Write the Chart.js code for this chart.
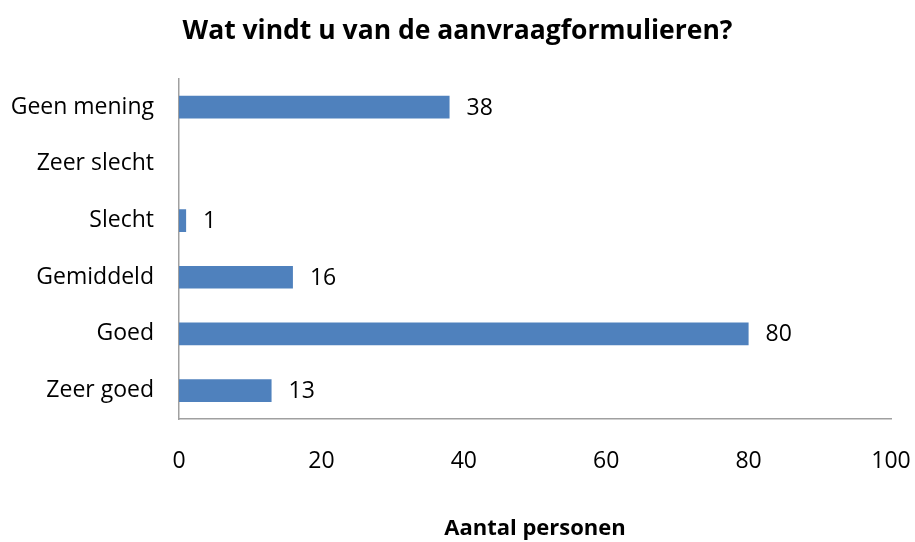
<!DOCTYPE html>
<html><head><meta charset="utf-8">
<script src="https://cdn.jsdelivr.net/npm/chart.js@4"></script>
<style>html,body{margin:0;padding:0;background:#fff}</style>
</head><body>
<canvas id="c" width="915" height="542"></canvas>
<script>
const categories = ['Geen mening', 'Zeer slecht', 'Slecht', 'Gemiddeld', 'Goed', 'Zeer goed'];
const values = [38, null, 1, 16, 80, 13];
const xTicks = [0, 20, 40, 60, 80, 100];
const chartTitle = 'Wat vindt u van de aanvraagformulieren?';
const xAxisTitle = 'Aantal personen';

const FONT = "'Open Sans', 'Liberation Sans', sans-serif";

const valueLabels = {
  id: 'valueLabels',
  afterDatasetsDraw(chart) {
    const ctx = chart.ctx;
    const meta = chart.getDatasetMeta(0);
    ctx.save();
    ctx.font = "23px " + FONT;
    ctx.fillStyle = '#000';
    ctx.textAlign = 'left';
    ctx.textBaseline = 'middle';
    meta.data.forEach((bar, i) => {
      const v = chart.data.datasets[0].data[i];
      if (v === null || v === undefined) return;
      ctx.fillText(String(v), bar.x + 17, bar.y + 1);
    });
    ctx.restore();
  }
};

new Chart(document.getElementById('c'), {
  type: 'bar',
  data: {
    labels: categories,
    datasets: [{
      data: values,
      backgroundColor: '#4F81BD',
      borderWidth: 0,
      barPercentage: 0.4,
      categoryPercentage: 1.0
    }]
  },
  plugins: [valueLabels],
  options: {
    indexAxis: 'y',
    responsive: false,
    animation: false,
    devicePixelRatio: 1,
    layout: { padding: 0 },
    plugins: {
      legend: { display: false },
      tooltip: { enabled: false },
      title: {
        display: true,
        text: chartTitle,
        color: '#000',
        font: { family: FONT, size: 26.5, weight: 'bold', lineHeight: 1.2 },
        padding: { top: 16, bottom: 31 }
      }
    },
    scales: {
      x: {
        min: 0, max: 100,
        afterBuildTicks(scale) { scale.ticks = xTicks.map(v => ({ value: v })); },
        grid: { display: false, drawTicks: false },
        border: { display: true, color: '#A0A0A0', width: 1.5 },
        ticks: {
          color: '#000',
          padding: 29,
          font: { family: FONT, size: 23, lineHeight: 1.2 }
        },
        title: {
          display: true,
          text: xAxisTitle,
          color: '#000',
          font: { family: FONT, size: 22, weight: 'bold', lineHeight: 1.2 },
          padding: { top: 0, bottom: 0 }
        },
        afterFit(scale) { scale.height = 123; scale.paddingLeft = 0; scale.paddingRight = 24; }
      },
      y: {
        grid: { display: false, drawTicks: false },
        border: { display: true, color: '#A0A0A0', width: 1.5 },
        ticks: {
          color: '#000',
          padding: 25,
          font: { family: FONT, size: 23, lineHeight: 1.2 }
        },
        afterFit(scale) { scale.width = 179; scale.paddingTop = 0; scale.paddingBottom = 0; }
      }
    }
  }
});
</script>
</body></html>
